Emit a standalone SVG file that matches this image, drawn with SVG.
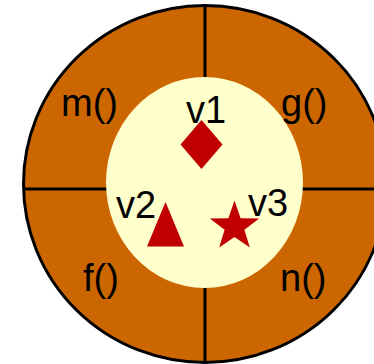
<svg xmlns="http://www.w3.org/2000/svg" width="374" height="364" viewBox="0 0 374 364">
<style>
.lbl{font-family:"Liberation Sans",Arial,sans-serif;font-size:38px;fill:#000}
.shape{fill:#C00000}
.div{stroke:#000;stroke-width:3;fill:none}
</style>
<rect width="374" height="364" fill="#fff"/>
<g id="outer">
<ellipse cx="205" cy="184" rx="181.5" ry="178.5" fill="#CC6600" stroke="#000" stroke-width="3"/>
</g>
<g id="connectors">
<line class="div" x1="23" y1="189" x2="374" y2="189"/>
<line class="div" x1="205" y1="5" x2="205" y2="363"/>
</g>
<g id="inner">
<ellipse cx="204.5" cy="182.5" rx="98.5" ry="105.5" fill="#FFFFCC"/>
</g>
<g id="m"><text class="lbl" x="61" y="116">m()</text></g>
<g id="g"><text class="lbl" x="281" y="116">g()</text></g>
<g id="f"><text class="lbl" x="83" y="291">f()</text></g>
<g id="n"><text class="lbl" x="280" y="291">n()</text></g>
<g id="v1">
<text class="lbl" x="186" y="123">v1</text>
<polygon class="shape" points="201.5,120 222.5,144.5 201.5,169 180.5,144.5"/>
</g>
<g id="v2">
<text class="lbl" x="116" y="218">v2</text>
<polygon class="shape" points="165.5,202 184,246.5 147,246.5"/>
</g>
<g id="v3">
<text class="lbl" x="248" y="216">v3</text>
<polygon class="shape" points="234.5,200.5 240.6,218.3 259.2,218.5 244.4,229.7 249.8,247.5 234.5,236.9 219.2,247.5 224.6,229.7 209.8,218.5 228.4,218.3"/>
</g>
</svg>
